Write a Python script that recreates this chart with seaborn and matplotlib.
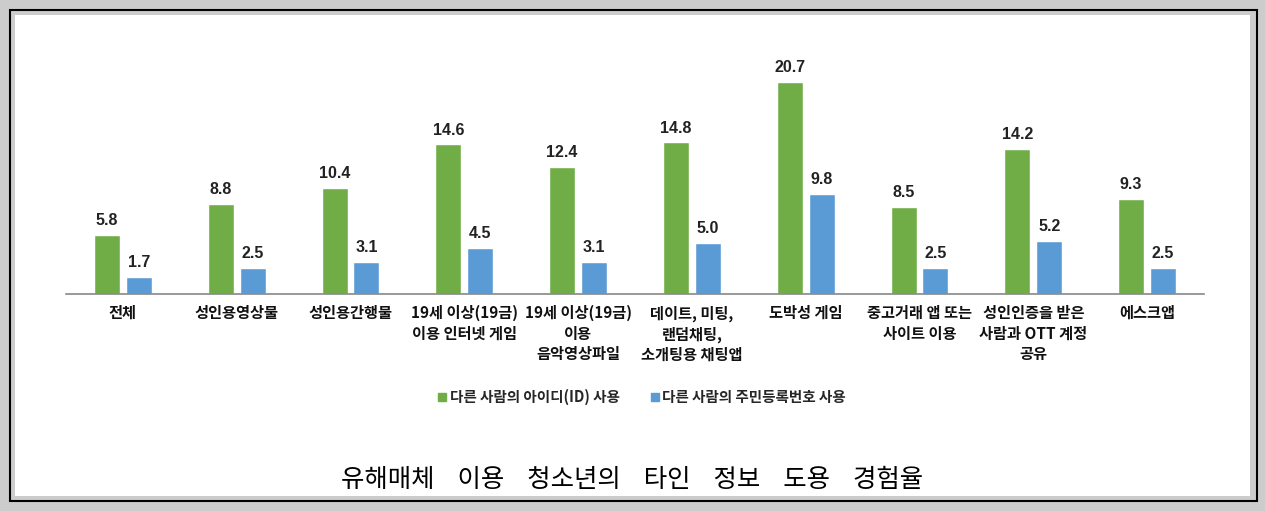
import matplotlib
matplotlib.use("Agg")
import matplotlib.pyplot as plt
from matplotlib.patches import Rectangle
from matplotlib.lines import Line2D
import seaborn as sns
import pandas as pd

categories = ["전체", "성인용영상물", "성인용간행물", "19세 이상(19금)\n이용 인터넷 게임",
              "19세 이상(19금)\n이용\n음악영상파일", "데이트, 미팅,\n랜덤채팅,\n소개팅용 채팅앱",
              "도박성 게임", "중고거래 앱 또는\n사이트 이용", "성인인증을 받은\n사람과 OTT 계정\n공유",
              "에스크앱"]
series_names = ["다른 사람의 아이디(ID) 사용", "다른 사람의 주민등록번호 사용"]
id_use = [5.8, 8.8, 10.4, 14.6, 12.4, 14.8, 20.7, 8.5, 14.2, 9.3]
rrn_use = [1.7, 2.5, 3.1, 4.5, 3.1, 5.0, 9.8, 2.5, 5.2, 2.5]
title = "    ".join(["유해매체", "이용", "청소년의", "타인", "정보", "도용", "경험율"])

colors = ["#70AD47", "#5B9BD5"]

df = pd.DataFrame({
    "cat": categories * 2,
    "series": [series_names[0]] * len(categories) + [series_names[1]] * len(categories),
    "val": id_use + rrn_use,
})

sns.set_theme(style="white")
plt.rcParams['font.family'] = ['Noto Sans CJK KR', 'DejaVu Sans']

W, H = 1265, 511
fig = plt.figure(figsize=(W / 100, H / 100), dpi=100)
fig.patch.set_facecolor("#CCCCCC")

# frame: black outline and white panel
fig.patches.append(Rectangle((9.5 / W, 1 - 500.5 / H), (1257 - 9.5) / W, (500.5 - 10) / H,
                             transform=fig.transFigure, facecolor="none", edgecolor="black",
                             linewidth=1.5, zorder=-2))
fig.patches.append(Rectangle((15 / W, 1 - 496 / H), (1250 - 15) / W, (496 - 15) / H,
                             transform=fig.transFigure, facecolor="white", edgecolor="none",
                             zorder=-1))

ax = fig.add_axes([66 / W, (H - 294) / H, (1204 - 66) / W, (294 - 38) / H])
ax.set_facecolor("none")
ax.set_zorder(1)

sns.barplot(data=df, x="cat", y="val", hue="series", palette=colors, ax=ax,
            width=0.56, gap=0.18, legend=False, saturation=1)

for cont in ax.containers:
    ax.bar_label(cont, fmt="%.1f", padding=5, fontsize=11.5, fontweight="bold",
                 color="#222222", family=["Liberation Sans", "DejaVu Sans"])

ax.set_xlim(-0.5, len(categories) - 0.5)
ax.set_ylim(0, 25)
ax.set_xlabel("")
ax.set_ylabel("")
ax.set_yticks([])
for s in ["left", "right", "top"]:
    ax.spines[s].set_visible(False)
ax.spines["bottom"].set_color("#888888")
ax.spines["bottom"].set_linewidth(1.2)

ax.set_xticks(range(len(categories)))
ax.set_xticklabels(categories, fontsize=11, fontweight="bold", linespacing=1.35,
                   va="top", color="#111111")
ax.tick_params(axis="x", which="major", length=0, pad=8)
ax.set_xticks([i - 0.5 for i in range(len(categories) + 1)], minor=True)
ax.tick_params(axis="x", which="minor", length=4, width=1, color="#888888", direction="out")

handles = [Line2D([0], [0], marker="s", linestyle="none", markersize=6,
                  markerfacecolor=c, markeredgecolor=c) for c in colors]
fig.legend(handles, series_names, loc="center", bbox_to_anchor=(641 / W, 1 - 397 / H),
           ncol=2, frameon=False, prop={"size": 10.5, "weight": "bold"},
           handletextpad=0.1, columnspacing=2.0, handlelength=0.8)

fig.text(632.5 / W, 1 - 480 / H, title, ha="center", va="center", fontsize=18.3, color="black")

fig.savefig("out.png", dpi=100, facecolor=fig.get_facecolor())
